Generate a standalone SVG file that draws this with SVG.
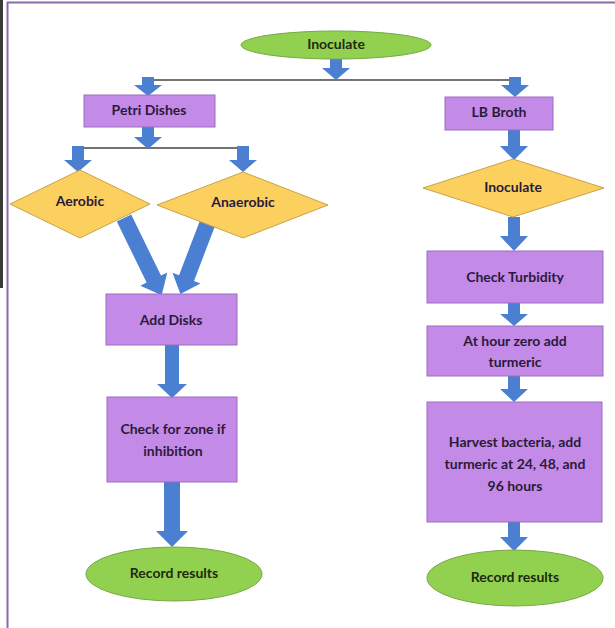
<svg xmlns="http://www.w3.org/2000/svg" width="615" height="628" viewBox="0 0 615 628">
<style>
.rect{fill:#c48ae8;stroke:#9a6cc0;stroke-width:1}
.ell{fill:#92d050;stroke:#78a846;stroke-width:1}
.dia{fill:#fbd05e;stroke:#c9a24a;stroke-width:1}
.arr{fill:#4a7fd2}
.ln{stroke:#444;stroke-width:1.5;fill:none}
text{font-family:Lato,"Open Sans","Liberation Sans",sans-serif;font-weight:bold;font-size:14px;fill:#2a1a3a;text-anchor:middle;dominant-baseline:middle}
.et{fill:#1e2a10}
</style>
<rect x="0" y="0" width="615" height="628" fill="#ffffff"/>
<rect x="0" y="0" width="3" height="288" fill="#3a3a3a"/>
<line x1="7" y1="2.5" x2="615" y2="2.5" stroke="#8a6aa8" stroke-width="2"/>
<line x1="7.5" y1="2" x2="7.5" y2="628" stroke="#8a6aa8" stroke-width="2"/>

<g id="connectors">
<line class="ln" x1="148" y1="80" x2="515" y2="80"/>
<line class="ln" x1="78" y1="148" x2="243" y2="148"/>
<polygon class="arr" points="330,58 342,58 342,68 350,68 336,80 322,68 330,68"/>
<polygon class="arr" points="142,77 154,77 154,85 162,85 148,96 134,85 142,85"/>
<polygon class="arr" points="509,77 521,77 521,85 529,85 515,97 501,85 509,85"/>
<polygon class="arr" points="142,127 154,127 154,137 162,137 148,149 134,137 142,137"/>
<polygon class="arr" points="72,146 84,146 84,160 92,160 78,172 64,160 72,160"/>
<polygon class="arr" points="237,146 249,146 249,160 257,160 243,172 229,160 237,160"/>
<polygon class="arr" transform="translate(124,218) rotate(-26)" points="-8,0 8,0 8,68 15,68 0,86 -15,68 -8,68"/>
<polygon class="arr" transform="translate(208,222) rotate(21)" points="-8,0 8,0 8,60 15,60 0,77 -15,60 -8,60"/>
<polygon class="arr" points="165,345 179,345 179,384 187,384 172,398 157,384 165,384"/>
<polygon class="arr" points="164,482 180,482 180,531 188,531 172,547 156,531 164,531"/>
<polygon class="arr" points="508,130 520,130 520,146 528,146 514,160 500,146 508,146"/>
<polygon class="arr" points="508,217 520,217 520,236 528,236 514,251 500,236 508,236"/>
<polygon class="arr" points="508,303 520,303 520,314 528,314 514,326 500,314 508,314"/>
<polygon class="arr" points="508,376 520,376 520,389 528,389 514,402 500,389 508,389"/>
<polygon class="arr" points="508,522 520,522 520,537 528,537 514,551 500,537 508,537"/>
</g>

<g id="inoculate-top"><ellipse class="ell" cx="336" cy="45" rx="95" ry="14"/><text class="et" x="336" y="45">Inoculate</text></g>
<g id="petri"><rect class="rect" x="84" y="95" width="131" height="32"/><text x="149" y="111">Petri Dishes</text></g>
<g id="lbbroth"><rect class="rect" x="445" y="97" width="108" height="33"/><text x="499" y="113">LB Broth</text></g>
<g id="aerobic"><polygon class="dia" points="10,204 80,170 150,204 80,238"/><text x="80" y="202">Aerobic</text></g>
<g id="anaerobic"><polygon class="dia" points="157,205 243,172 328,205 243,238"/><text x="243" y="203">Anaerobic</text></g>
<g id="adddisks"><rect class="rect" x="106" y="294" width="131" height="51"/><text x="171" y="321">Add Disks</text></g>
<g id="checkzone"><rect class="rect" x="107" y="397" width="130" height="85"/><text x="173" y="430">Check for zone if</text><text x="173" y="452">inhibition</text></g>
<g id="record-left"><ellipse class="ell" cx="174" cy="574" rx="88" ry="27"/><text class="et" x="174" y="574">Record results</text></g>
<g id="inoculate-right"><polygon class="dia" points="423,188 513,159 604,188 513,217"/><text x="513" y="188">Inoculate</text></g>
<g id="turbidity"><rect class="rect" x="427" y="251" width="176" height="52"/><text x="515" y="278">Check Turbidity</text></g>
<g id="hourzero"><rect class="rect" x="427" y="326" width="176" height="50"/><text x="515" y="342">At hour zero add</text><text x="515" y="363">turmeric</text></g>
<g id="harvest"><rect class="rect" x="427" y="402" width="175" height="120"/><text x="515" y="443">Harvest bacteria, add</text><text x="515" y="465">turmeric at 24, 48, and</text><text x="515" y="487">96 hours</text></g>
<g id="record-right"><ellipse class="ell" cx="515" cy="578" rx="88" ry="28"/><text class="et" x="515" y="578">Record results</text></g>
</svg>
